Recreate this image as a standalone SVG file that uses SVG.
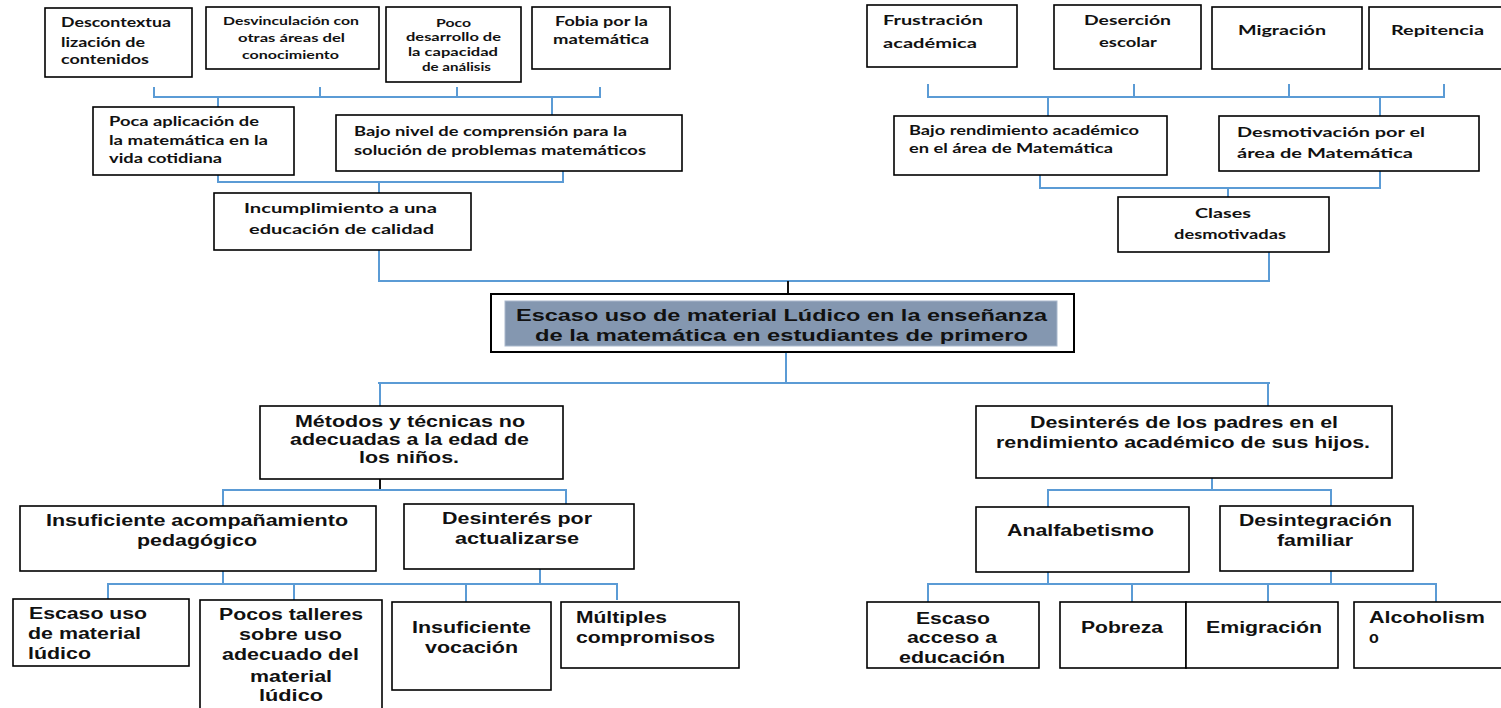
<svg xmlns="http://www.w3.org/2000/svg" width="1501" height="708" viewBox="0 0 1501 708">
<style>
.bg{fill:#fff}
.box{fill:#fff;stroke:#000;stroke-width:1.6}
.c{stroke:#5b9bd5;stroke-width:2;fill:none}
.k{stroke:#111;stroke-width:2;fill:none}
.t{font-family:Lato,"Open Sans","Liberation Sans",sans-serif;font-weight:bold;fill:#111;font-size:14px}
.s{font-size:11.5px}
.a{font-family:"Liberation Sans",Arial,sans-serif;font-weight:bold;fill:#111;font-size:16px}
.m{font-size:17px;fill:#111}
</style>
<rect class="bg" x="0" y="0" width="1501" height="708"/>
<g id="connectors">
<path class="c" d="M154,87V97H600V87M320,87V97M457,87V97M218,97V107M552,97V115"/>
<path class="c" d="M218,175V182H563V171M379,182V193M379,250V281H1270"/>
<path class="c" d="M928,84V97H1444V84M1134,84V97M1289,84V97M1048,97V116M1380,97V116"/>
<path class="c" d="M1040,175V188H1380V171M1228,188V197M1269,252V281"/>
<path class="k" d="M788,281V294"/>
<path class="c" d="M786,352V383M378,383H1270M380,383V406M1268,383V406"/>
<path class="k" d="M380,479V490"/>
<path class="c" d="M223,506V490H566V504M223,571V584M540,569V584M108,600V584H617V600M294,584V600M466,584V602"/>
<path class="c" d="M1212,478V490M1048,507V490H1331V506M1048,572V584M1331,571V584M928,602V584H1436V602M1132,584V602M1268,584V602"/>
</g>
<g id="n-descontextualizacion"><rect class="box" x="45" y="8" width="147" height="69"/>
<text class="t" x="61" y="27" textLength="110" lengthAdjust="spacingAndGlyphs">Descontextua</text>
<text class="t" x="61" y="47" textLength="84" lengthAdjust="spacingAndGlyphs">lización de</text>
<text class="t" x="61" y="64" textLength="88" lengthAdjust="spacingAndGlyphs">contenidos</text></g>
<g id="n-desvinculacion"><rect class="box" x="206" y="7" width="173" height="62"/>
<text class="t s" x="223" y="25" textLength="136" lengthAdjust="spacingAndGlyphs">Desvinculación con</text>
<text class="t s" x="238" y="42" textLength="107" lengthAdjust="spacingAndGlyphs">otras áreas del</text>
<text class="t s" x="242" y="59" textLength="97" lengthAdjust="spacingAndGlyphs">conocimiento</text></g>
<g id="n-poco-desarrollo"><rect class="box" x="386" y="7" width="135" height="75"/>
<text class="t s" x="436" y="27" textLength="35" lengthAdjust="spacingAndGlyphs">Poco</text>
<text class="t s" x="406" y="41" textLength="95" lengthAdjust="spacingAndGlyphs">desarrollo de</text>
<text class="t s" x="408" y="56" textLength="90" lengthAdjust="spacingAndGlyphs">la capacidad</text>
<text class="t s" x="422" y="71" textLength="69" lengthAdjust="spacingAndGlyphs">de análisis</text></g>
<g id="n-fobia"><rect class="box" x="532" y="7" width="138" height="62"/>
<text class="t" x="555" y="26" textLength="93" lengthAdjust="spacingAndGlyphs">Fobia por la</text>
<text class="t" x="553" y="44" textLength="96" lengthAdjust="spacingAndGlyphs">matemática</text></g>
<g id="n-poca-aplicacion"><rect class="box" x="93" y="107" width="201" height="68"/>
<text class="t" x="109" y="126" textLength="150" lengthAdjust="spacingAndGlyphs">Poca aplicación de</text>
<text class="t" x="109" y="145" textLength="159" lengthAdjust="spacingAndGlyphs">la matemática en la</text>
<text class="t" x="109" y="163" textLength="113" lengthAdjust="spacingAndGlyphs">vida cotidiana</text></g>
<g id="n-bajo-nivel"><rect class="box" x="336" y="115" width="346" height="56"/>
<text class="t" x="354" y="136" textLength="273" lengthAdjust="spacingAndGlyphs">Bajo nivel de comprensión para la</text>
<text class="t" x="354" y="155" textLength="292" lengthAdjust="spacingAndGlyphs">solución de problemas matemáticos</text></g>
<g id="n-incumplimiento"><rect class="box" x="214" y="193" width="257" height="57"/>
<text class="t" x="244" y="213" textLength="193" lengthAdjust="spacingAndGlyphs">Incumplimiento a una</text>
<text class="t" x="249" y="234" textLength="185" lengthAdjust="spacingAndGlyphs">educación de calidad</text></g>
<g id="n-frustracion"><rect class="box" x="867" y="5" width="150" height="62"/>
<text class="t" x="883" y="25" textLength="100" lengthAdjust="spacingAndGlyphs">Frustración</text>
<text class="t" x="883" y="48" textLength="94" lengthAdjust="spacingAndGlyphs">académica</text></g>
<g id="n-desercion"><rect class="box" x="1054" y="5" width="147" height="64"/>
<text class="t" x="1084" y="25" textLength="87" lengthAdjust="spacingAndGlyphs">Deserción</text>
<text class="t" x="1099" y="47" textLength="58" lengthAdjust="spacingAndGlyphs">escolar</text></g>
<g id="n-migracion"><rect class="box" x="1212" y="7" width="150" height="62"/>
<text class="t" x="1238" y="35" textLength="88" lengthAdjust="spacingAndGlyphs">Migración</text></g>
<g id="n-repitencia"><rect class="box" x="1369" y="7" width="140" height="62"/>
<text class="t" x="1391" y="35" textLength="93" lengthAdjust="spacingAndGlyphs">Repitencia</text></g>
<g id="n-bajo-rendimiento"><rect class="box" x="894" y="116" width="273" height="59"/>
<text class="t" x="909" y="135" textLength="230" lengthAdjust="spacingAndGlyphs">Bajo rendimiento académico</text>
<text class="t" x="909" y="153" textLength="204" lengthAdjust="spacingAndGlyphs">en el área de Matemática</text></g>
<g id="n-desmotivacion"><rect class="box" x="1219" y="116" width="260" height="55"/>
<text class="t" x="1237" y="137" textLength="188" lengthAdjust="spacingAndGlyphs">Desmotivación por el</text>
<text class="t" x="1237" y="158" textLength="176" lengthAdjust="spacingAndGlyphs">área de Matemática</text></g>
<g id="n-clases"><rect class="box" x="1118" y="197" width="211" height="55"/>
<text class="t" x="1195" y="218" textLength="56" lengthAdjust="spacingAndGlyphs">Clases</text>
<text class="t" x="1174" y="239" textLength="112" lengthAdjust="spacingAndGlyphs">desmotivadas</text></g>
<g id="n-problema"><rect class="box" x="491" y="294" width="583" height="58" style="stroke-width:2"/>
<rect x="505" y="301" width="552" height="45" fill="#8497b0" stroke="#a9b8cc" stroke-width="1"/>
<text class="a m" x="516" y="321" textLength="531" lengthAdjust="spacingAndGlyphs">Escaso uso de material Lúdico en la enseñanza</text>
<text class="a m" x="535" y="341" textLength="493" lengthAdjust="spacingAndGlyphs">de la matemática en estudiantes de primero</text></g>
<g id="n-metodos"><rect class="box" x="260" y="406" width="303" height="73"/>
<text class="a" x="295" y="427" textLength="230" lengthAdjust="spacingAndGlyphs">Métodos y técnicas no</text>
<text class="a" x="290" y="445" textLength="239" lengthAdjust="spacingAndGlyphs">adecuadas a la edad de</text>
<text class="a" x="359" y="463" textLength="100" lengthAdjust="spacingAndGlyphs">los niños.</text></g>
<g id="n-insuficiente-acomp"><rect class="box" x="20" y="506" width="356" height="65"/>
<text class="a" x="46" y="526" textLength="302" lengthAdjust="spacingAndGlyphs">Insuficiente acompañamiento</text>
<text class="a" x="137" y="546" textLength="120" lengthAdjust="spacingAndGlyphs">pedagógico</text></g>
<g id="n-desinteres-act"><rect class="box" x="404" y="504" width="230" height="65"/>
<text class="a" x="442" y="524" textLength="150" lengthAdjust="spacingAndGlyphs">Desinterés por</text>
<text class="a" x="455" y="544" textLength="124" lengthAdjust="spacingAndGlyphs">actualizarse</text></g>
<g id="n-escaso-uso"><rect class="box" x="13" y="599" width="176" height="67"/>
<text class="a" x="29" y="619" textLength="118" lengthAdjust="spacingAndGlyphs">Escaso uso</text>
<text class="a" x="28" y="639" textLength="113" lengthAdjust="spacingAndGlyphs">de material</text>
<text class="a" x="28" y="659" textLength="63" lengthAdjust="spacingAndGlyphs">lúdico</text></g>
<g id="n-pocos-talleres"><rect class="box" x="200" y="600" width="182" height="115"/>
<text class="a" x="219" y="620" textLength="144" lengthAdjust="spacingAndGlyphs">Pocos talleres</text>
<text class="a" x="239" y="640" textLength="103" lengthAdjust="spacingAndGlyphs">sobre uso</text>
<text class="a" x="222" y="660" textLength="137" lengthAdjust="spacingAndGlyphs">adecuado del</text>
<text class="a" x="250" y="682" textLength="82" lengthAdjust="spacingAndGlyphs">material</text>
<text class="a" x="259" y="701" textLength="64" lengthAdjust="spacingAndGlyphs">lúdico</text></g>
<g id="n-insuficiente-voc"><rect class="box" x="392" y="602" width="159" height="88"/>
<text class="a" x="412" y="633" textLength="119" lengthAdjust="spacingAndGlyphs">Insuficiente</text>
<text class="a" x="425" y="653" textLength="93" lengthAdjust="spacingAndGlyphs">vocación</text></g>
<g id="n-multiples"><rect class="box" x="561" y="602" width="178" height="66"/>
<text class="a" x="576" y="623" textLength="91" lengthAdjust="spacingAndGlyphs">Múltiples</text>
<text class="a" x="576" y="643" textLength="139" lengthAdjust="spacingAndGlyphs">compromisos</text></g>
<g id="n-desinteres-padres"><rect class="box" x="976" y="406" width="416" height="72"/>
<text class="a" x="1030" y="428" textLength="308" lengthAdjust="spacingAndGlyphs">Desinterés de los padres en el</text>
<text class="a" x="996" y="448" textLength="374" lengthAdjust="spacingAndGlyphs">rendimiento académico de sus hijos.</text></g>
<g id="n-analfabetismo"><rect class="box" x="976" y="507" width="213" height="65"/>
<text class="a" x="1007" y="536" textLength="147" lengthAdjust="spacingAndGlyphs">Analfabetismo</text></g>
<g id="n-desintegracion"><rect class="box" x="1220" y="506" width="193" height="65"/>
<text class="a" x="1239" y="526" textLength="153" lengthAdjust="spacingAndGlyphs">Desintegración</text>
<text class="a" x="1277" y="546" textLength="76" lengthAdjust="spacingAndGlyphs">familiar</text></g>
<g id="n-escaso-acceso"><rect class="box" x="867" y="602" width="172" height="66"/>
<text class="a" x="916" y="624" textLength="74" lengthAdjust="spacingAndGlyphs">Escaso</text>
<text class="a" x="907" y="643" textLength="90" lengthAdjust="spacingAndGlyphs">acceso a</text>
<text class="a" x="899" y="663" textLength="106" lengthAdjust="spacingAndGlyphs">educación</text></g>
<g id="n-pobreza"><rect class="box" x="1060" y="602" width="126" height="66"/>
<text class="a" x="1081" y="633" textLength="82" lengthAdjust="spacingAndGlyphs">Pobreza</text></g>
<g id="n-emigracion"><rect class="box" x="1186" y="602" width="152" height="66"/>
<text class="a" x="1206" y="633" textLength="116" lengthAdjust="spacingAndGlyphs">Emigración</text></g>
<g id="n-alcoholismo"><rect class="box" x="1354" y="602" width="152" height="66"/>
<text class="a" x="1369" y="623" textLength="116" lengthAdjust="spacingAndGlyphs">Alcoholism</text>
<text class="a" x="1369" y="643">o</text></g>
</svg>
